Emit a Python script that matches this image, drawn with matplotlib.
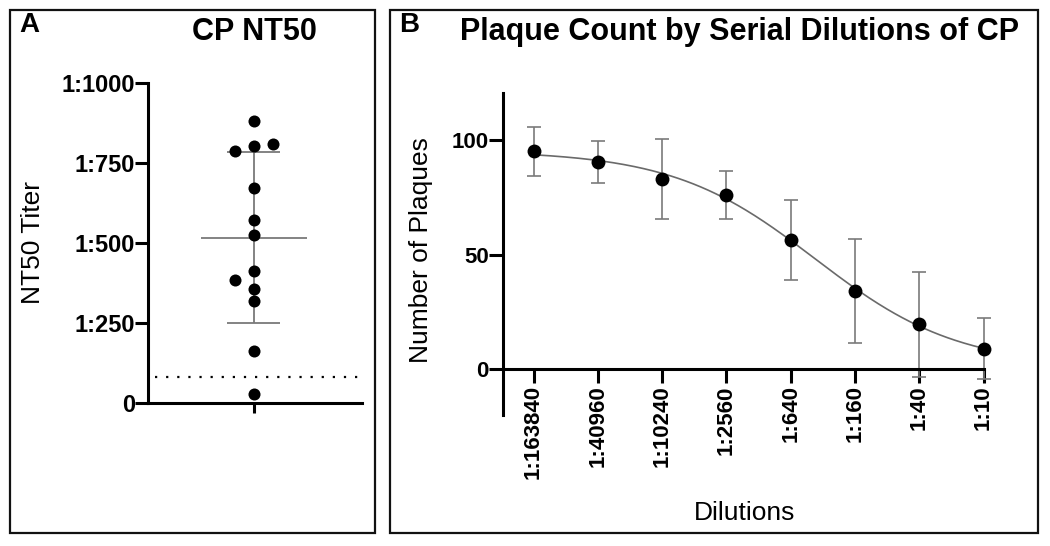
"""CP neutralisation titers and plaque counts by serial dilution."""
import matplotlib
matplotlib.use("Agg")
import matplotlib.pyplot as plt
from matplotlib.patches import Rectangle
import numpy as np

plt.rcParams["font.family"] = ["Liberation Sans", "DejaVu Sans"]

# panel A: NT50 titers of the convalescent plasma donors
nt50_values = [882, 786, 804, 809, 672, 573, 526, 411, 383, 356, 318, 161, 29]
nt50_column = [0, -1, 0, 1, 0, 0, 0, 0, -1, 0, 0, 0, 0]   # scatter column (left/centre/right)
nt50_limit = 81
nt50_ticks = [0, 250, 500, 750, 1000]
nt50_ticklabels = ["0", "1:250", "1:500", "1:750", "1:1000"]

# panel B: plaque counts per dilution (mean +/- SD)
dilution_labels = ["1:163840", "1:40960", "1:10240", "1:2560", "1:640", "1:160", "1:40", "1:10"]
plaque_mean = [95.0, 90.5, 83.0, 76.0, 56.5, 34.0, 19.5, 9.0]
plaque_sd = [10.5, 9.2, 17.4, 10.5, 17.4, 22.6, 22.9, 13.3]
plaque_ticks = [0, 50, 100]

W, H = 1050, 546
fig = plt.figure(figsize=(W / 100, H / 100), dpi=100)


def fig_rect(x0, y0, x1, y1):
    """pixel box (top-left origin) -> figure fraction [l, b, w, h]"""
    return [x0 / W, 1 - y1 / H, (x1 - x0) / W, (y1 - y0) / H]


# panel frames
for x0, x1 in [(10, 375), (390, 1038)]:
    fig.patches.append(Rectangle((x0 / W, 1 - 533 / H), (x1 - x0) / W, 523 / H,
                                 transform=fig.transFigure, fill=False,
                                 edgecolor="#111111", linewidth=1.6))

fig.text(19 / W, 1 - 25 / H, "A", fontsize=20, fontweight="bold", va="center")
fig.text(399 / W, 1 - 25 / H, "B", fontsize=20, fontweight="bold", va="center")
fig.text(254 / W, 1 - 32 / H, "CP NT50", fontsize=22, fontweight="bold", ha="center", va="center")
fig.text(740 / W, 1 - 32 / H, "Plaque Count by Serial Dilutions of CP", fontsize=22,
         fontweight="bold", ha="center", va="center")

grey = "#7a7a7a"

# ---- panel A
axA = fig.add_axes(fig_rect(148, 83, 362, 403))
vals = np.array(nt50_values, dtype=float)
mean, sd = vals.mean(), vals.std(ddof=1)
xs = np.array(nt50_column) * 0.18
axA.scatter(xs, vals, s=75, color="black", zorder=3, clip_on=False, linewidths=0)
axA.hlines(mean, -0.5, 0.5, color=grey, linewidth=1.3)
axA.vlines(0, mean - sd, mean + sd, color=grey, linewidth=1.3)
axA.hlines([mean - sd, mean + sd], -0.25, 0.25, color=grey, linewidth=1.3)
axA.hlines(nt50_limit, -0.93, 1.0, color="black", linewidth=1.6, linestyle=(0, (1, 4)))
axA.set_xlim(-1.0, 1.02)
axA.set_ylim(0, 1000)
axA.set_xticks([0])
axA.set_xticklabels([""])
axA.set_yticks(nt50_ticks)
axA.set_yticklabels(nt50_ticklabels, fontsize=17, fontweight="bold")
axA.tick_params(axis="y", length=9.5, width=2.2, pad=0)
axA.tick_params(axis="x", length=7, width=2.2)
for side in ["top", "right"]:
    axA.spines[side].set_visible(False)
for side in ["left", "bottom"]:
    axA.spines[side].set_linewidth(2.2)
fig.text(33 / W, 1 - 243 / H, "NT50 Titer", fontsize=19, rotation=90, ha="center", va="center")

# ---- panel B
axB = fig.add_axes(fig_rect(502.7, 93, 983.6, 415))
axB.spines["bottom"].set_position(("data", 0))
pos = np.arange(len(dilution_labels))
means = np.array(plaque_mean)

# four-parameter logistic fit of the means (grid over slope/midpoint, LS for top/bottom)
hills = np.linspace(0.2, 3.0, 281)[:, None, None]
mids = np.linspace(0.0, 7.0, 351)[None, :, None]
S = 1.0 / (1.0 + np.exp(hills * (pos - mids)))
s_mean = S.mean(axis=2, keepdims=True)
y_mean = means.mean()
d = ((S - s_mean) * (means - y_mean)).sum(axis=2, keepdims=True) / ((S - s_mean) ** 2).sum(axis=2, keepdims=True)
b = y_mean - d * s_mean
err = ((means - b - d * S) ** 2).sum(axis=2)
ih, im = np.unravel_index(np.argmin(err), err.shape)
hill, mid = hills[ih, 0, 0], mids[0, im, 0]
bb, dd = b[ih, im, 0], d[ih, im, 0]
xc = np.linspace(0, len(pos) - 1, 300)
axB.plot(xc, bb + dd / (1 + np.exp(hill * (xc - mid))), color="#6a6a6a", linewidth=1.2, zorder=2)

axB.errorbar(pos, plaque_mean, yerr=plaque_sd, fmt="none", ecolor=grey, elinewidth=1.2,
             capsize=5, capthick=1.2, zorder=2, clip_on=False)
axB.scatter(pos, plaque_mean, s=100, color="black", zorder=3, clip_on=False, linewidths=0)
axB.set_xlim(-0.48, 7.0)
axB.set_ylim(-20, 120.5)
axB.set_xticks(pos)
axB.set_xticklabels(dilution_labels, rotation=90, fontsize=16, fontweight="bold")
axB.set_yticks(plaque_ticks)
axB.set_yticklabels([str(t) for t in plaque_ticks], fontsize=16, fontweight="bold")
axB.tick_params(axis="x", length=10, width=2.2, pad=1.5)
axB.tick_params(axis="y", length=10, width=2.2, pad=0)
for side in ["top", "right"]:
    axB.spines[side].set_visible(False)
for side in ["left", "bottom"]:
    axB.spines[side].set_linewidth(2.2)
fig.text(421 / W, 1 - 250 / H, "Number of Plaques", fontsize=19, rotation=90, ha="center", va="center")
fig.text(745 / W, 1 - 513 / H, "Dilutions", fontsize=19, ha="center", va="center")

fig.savefig("out.png", dpi=100)
